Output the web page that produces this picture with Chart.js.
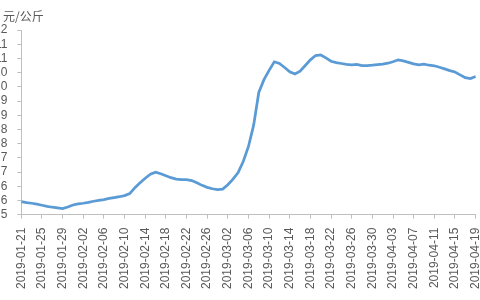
<!DOCTYPE html>
<html>
<head>
<meta charset="utf-8">
<script src="https://cdn.jsdelivr.net/npm/chart.js@4/dist/chart.umd.min.js"></script>
<style>
  html, body { margin: 0; padding: 0; background: #fff; overflow: hidden; }
  #wrap { position: absolute; left: -16px; top: 0; }
</style>
</head>
<body>
<div id="wrap"><canvas id="priceChart" width="515" height="300"></canvas></div>
<script>
// daily price, 元/公斤, starting 2019-01-21
const startDate = "2019-01-21";
const prices = [
  5.46, 5.42, 5.40, 5.37, 5.33, 5.29, 5.26, 5.24, 5.21, 5.27,
  5.34, 5.38, 5.40, 5.43, 5.47, 5.50, 5.53, 5.57, 5.60, 5.63,
  5.67, 5.74, 5.95, 6.12, 6.28, 6.42, 6.49, 6.44, 6.37, 6.30,
  6.25, 6.23, 6.23, 6.20, 6.12, 6.03, 5.96, 5.91, 5.88, 5.90,
  6.05, 6.25, 6.48, 6.88, 7.40, 8.15, 9.30, 9.75, 10.08, 10.38,
  10.32, 10.18, 10.03, 9.95, 10.05, 10.25, 10.45, 10.60, 10.62, 10.52,
  10.40, 10.35, 10.32, 10.29, 10.27, 10.29, 10.25, 10.25, 10.26, 10.28,
  10.30, 10.33, 10.38, 10.45, 10.41, 10.36, 10.31, 10.27, 10.30, 10.26,
  10.24, 10.19, 10.13, 10.07, 10.02, 9.92, 9.82, 9.79, 9.86
];
const unitLabel = "元/公斤";
const yMin = 5, yMax = 11.5, yStep = 0.5;
const labelEvery = 4;

const dates = [];
const d0 = new Date(startDate + "T00:00:00Z");
for (let i = 0; i < prices.length; i++) {
  const d = new Date(d0.getTime() + i * 86400000);
  dates.push(d.toISOString().slice(0, 10));
}

const textColor = "#595959";
const axisColor = "#bfbfbf";

// unit text in the top left corner (canvas is shifted 16px left)
const unitPlugin = {
  id: "unitText",
  afterDraw(chart) {
    const c = chart.ctx;
    c.save();
    c.font = "12px 'Noto Sans CJK SC', sans-serif";
    c.fillStyle = textColor;
    c.textBaseline = "middle";
    c.fillText(unitLabel, 19, 16);
    c.restore();
  }
};

const ctx = document.getElementById("priceChart").getContext("2d");
const myChart = new Chart(ctx, {
  type: "line",
  data: {
    labels: dates,
    datasets: [{
      data: prices,
      borderColor: "#5b9bd5",
      borderWidth: 2.75,
      pointRadius: 0,
      tension: 0,
      fill: false
    }]
  },
  options: {
    responsive: false,
    animation: false,
    layout: { padding: { top: 30, right: 2, bottom: 2, left: 0 } },
    plugins: { legend: { display: false }, tooltip: { enabled: false } },
    scales: {
      x: {
        grid: { display: true, drawOnChartArea: false, color: axisColor, tickLength: 4 },
        border: { color: axisColor },
        ticks: {
          autoSkip: false,
          maxRotation: 90,
          minRotation: 90,
          padding: 9,
          color: textColor,
          font: { family: "'Liberation Sans', Arial, sans-serif", size: 12 },
          callback: function (value, index) {
            return index % labelEvery === 0 ? this.getLabelForValue(value) : null;
          }
        }
      },
      y: {
        min: yMin,
        max: yMax,
        grid: { display: true, drawOnChartArea: false, color: axisColor, tickLength: 4 },
        border: { color: axisColor },
        ticks: {
          stepSize: yStep,
          autoSkip: false,
          padding: 10,
          color: textColor,
          font: { family: "'Liberation Sans', Arial, sans-serif", size: 12 },
          callback: (v) => String(Math.round(v))
        }
      }
    }
  },
  plugins: [unitPlugin]
});
</script>
</body>
</html>
